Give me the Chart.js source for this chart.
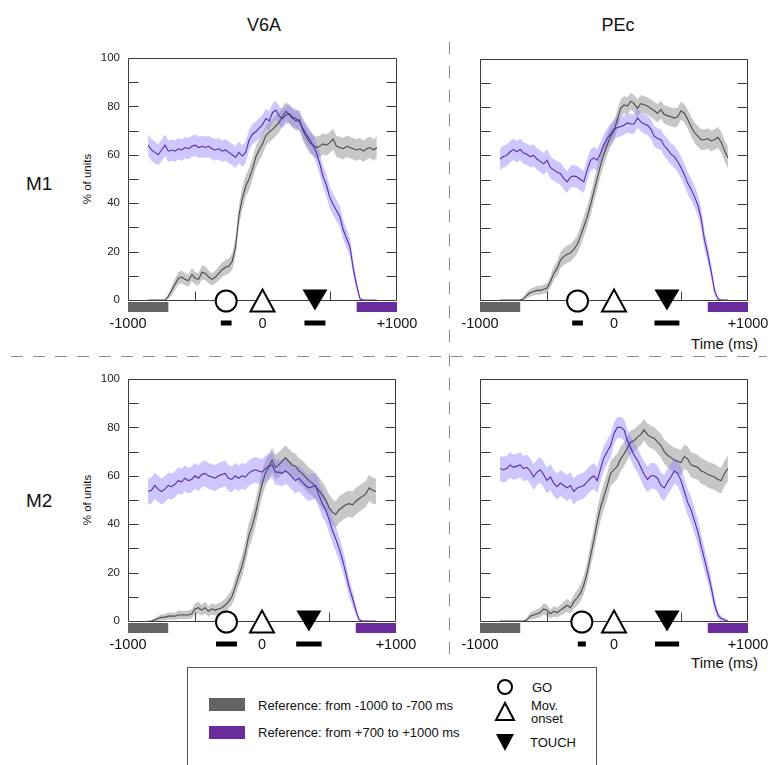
<!DOCTYPE html>
<html><head><meta charset="utf-8">
<script src="https://cdn.jsdelivr.net/npm/chart.js@4.4.1/dist/chart.umd.min.js"></script>
<style>
html,body{margin:0;padding:0;background:#fff;}
#wrap{position:relative;width:769px;height:765px;overflow:hidden;font-family:"Liberation Sans",Arial,sans-serif;color:#111;}
canvas{position:absolute;}
.t{position:absolute;white-space:nowrap;line-height:1;}
.c{transform:translate(-50%,-50%);}
.l{transform:translate(0,-50%);}
.r{transform:translate(-100%,-50%);}
.rot{transform:translate(-50%,-50%) rotate(-90deg);}
</style></head><body><div id="wrap">
<svg width="769" height="765" style="position:absolute;left:0;top:0">
<line x1="11" y1="356.5" x2="767" y2="356.5" stroke="#8a8a8a" stroke-width="1" stroke-dasharray="12,10"/>
<line x1="449.5" y1="42" x2="449.5" y2="664" stroke="#8a8a8a" stroke-width="1" stroke-dasharray="12,12"/>
<rect x="187.5" y="667.5" width="409" height="120" fill="none" stroke="#555" stroke-width="1"/>
<rect x="209" y="698" width="36" height="13" fill="#646464"/>
<rect x="209" y="726" width="36" height="13" fill="#6a2c9c"/>
<circle cx="505" cy="687" r="7" fill="#fff" stroke="#000" stroke-width="2"/>
<polygon points="505,703 496,720 514,720" fill="#fff" stroke="#000" stroke-width="2"/>
<polygon points="496,734 514,734 505,751" fill="#000"/>
</svg>
<div class="t c" style="left:264px;top:25px;font-size:18px">V6A</div>
<div class="t c" style="left:618px;top:25px;font-size:18px">PEc</div>
<div class="t l" style="left:26px;top:183px;font-size:19px">M1</div>
<div class="t l" style="left:26px;top:500px;font-size:19px">M2</div>
<div class="t rot" style="left:88px;top:179px;font-size:11.5px">% of units</div>
<div class="t rot" style="left:88px;top:500px;font-size:11.5px">% of units</div>
<div class="t r" style="left:758px;top:343px;font-size:15px">Time (ms)</div>
<div class="t r" style="left:758px;top:662px;font-size:15px">Time (ms)</div>
<div class="t l" style="left:258px;top:705px;font-size:13px">Reference: from -1000 to -700 ms</div>
<div class="t l" style="left:258px;top:732px;font-size:13px">Reference: from +700 to +1000 ms</div>
<div class="t l" style="left:532px;top:687px;font-size:13px">GO</div>
<div class="t l" style="left:531px;top:705px;font-size:13px">Mov.</div>
<div class="t l" style="left:531px;top:718px;font-size:13px">onset</div>
<div class="t l" style="left:530px;top:742px;font-size:13px">TOUCH</div>
<canvas id="c1" width="340" height="300" style="left:90px;top:40px"></canvas>
<canvas id="c2" width="327" height="300" style="left:442px;top:40px"></canvas>
<canvas id="c3" width="340" height="300" style="left:90px;top:360px"></canvas>
<canvas id="c4" width="327" height="300" style="left:442px;top:360px"></canvas>
</div>
<script>
// ---- data ----
const timeMs = [-850,-825,-800,-775,-750,-725,-700,-675,-650,-625,-600,-575,-550,-525,-500,-475,-450,-425,-400,-375,-350,-325,-300,-275,-250,-225,-200,-175,-150,-125,-100,-75,-50,-25,0,25,50,75,100,125,150,175,200,225,250,275,300,325,350,375,400,425,450,475,500,525,550,575,600,625,650,675,700,725,750,775,800,825,850];

const v6aM1Gray = [0,0,0,0,0,0,1.5,4,6.5,9,9.5,8.5,8,10.5,9,8.5,11.5,11,9.5,8.5,9.5,11,12.5,13.5,14,16,22,35,42,47,50,54,59,62,64.5,68,69.5,70.5,72,73.5,76,78,76.5,75,74,74.5,70,67.5,65,64,63,63.5,64.5,64,65,66.5,63.5,63,62.5,63.5,63,62.5,62,62.5,61.5,62.5,63,62,63];
const v6aM1Purple = [64,62,61,60,62,64,61.5,62,61.5,62.5,62,63,62.5,63.5,64,63,63.5,63,63.5,62.5,62,62.5,61.5,62,61,60,59,61,59.5,61,66,68.5,69.5,71,72.5,75,74,77.5,78.5,76,75,76.5,77,75.5,75,73.5,71,68.5,66.5,64,61,56.5,51,47.5,42.5,39.5,37,34.5,29,25.5,22,13,6,0.5,0,0,0,0,0];

const pecM1Gray = [0,0,0,0,0,0,0,0.5,2,3,3.5,4,4,4.5,5,7.5,11,13,16.5,18,19,19.5,21,23,26.5,30.5,34.5,39.5,45,50.5,56,60.5,64.5,68,70,75,79.5,81,80.5,82.5,81.5,79.5,81.5,81,80.5,79.5,78.5,77.5,79,77,76.5,76,75.5,76,78.5,77.5,75,72,69.5,68,66.5,66.5,67,66,66.5,67.5,65.5,62,59];
const pecM1Purple = [58.5,59.5,60,61.5,62.5,61.5,62.5,61,60.5,59.5,60,58.5,57.5,56.5,58,55,54,53,52.5,50.5,49,51,51.5,51,50,49,54,58,59,58,61,64.5,67,69,71,71.5,72,72.5,73.5,73,73,75.5,74,73,72.5,71,68,67,66.5,64,62.5,60.5,59.5,57.5,55,52,48.5,46,43,39.5,34,25,19,12,4,0.5,0,0,0];

const v6aM2Gray = [0,0,0.5,1,1.5,1.5,2,2,2,2.5,2.5,2.5,2.5,3,5,5.5,4.5,5.5,4,5,4.5,5,5.5,6.5,8,10,14,18.5,22.5,28,35,39,44,50.5,56.5,61,63.5,66.5,63.5,64.5,66,67.5,66,64.5,64,62,61,59.5,58,57,55.5,54,52,50,47,45,44,46,47,48,48.5,48,49.5,50.5,51.5,52.5,55,54,53.5];
const v6aM2Purple = [53.5,54,56,54.5,53.5,54.5,56,55.5,56.5,58,57.5,59,58,58.5,60,59,60.5,61,60,59.5,59,60,60.5,61,59,58.5,60,59,60,59.5,61,62,62.5,62,61.5,63,64,64.5,61.5,61.5,61,62,61,59.5,58,59,57.5,56,55,55.5,56,52,48.5,46,42,37.5,34,30,25.5,20,14,9.5,4.5,0.5,0,0,0,0,0];

const pecM2Gray = [0,0,0,0,0,0,0,0,0.5,2,2.5,3,3.5,5,4.5,3,4,3.5,4.5,5.5,6.5,5.5,8,9.5,11.5,15,20,27,33.5,41,47,51.5,56,61,62.5,64,67,69,71.5,74,74.5,76,77,79,77,76,75.5,74,72.5,70,68.5,67.5,66.5,66,65.5,68,67,64.5,64,63.5,62,61.5,60.5,60,59.5,58.5,58,61,63];
const pecM2Purple = [63,62.5,63,64.5,63.5,64,64.5,63,63.5,62,59.5,61.5,62.5,60.5,58,59.5,57,55.5,57,56,55,56,53.5,55,55.5,56,57.5,59,60,58,63,67.5,70,72.5,77.5,80,80,79,74.5,71.5,68.5,66.5,63.5,60.5,58.5,60,60,59,56,55,57.5,59.5,62,61,58,53.5,49,46,41.5,37,31,25.5,20,14,7,2.5,1,0.5,0];

// number of recorded units per panel (for the standard-error band of the percentage)
const unitCounts = [120, 120, 85, 85];

// behavioural events (ms) and their spread
const goTimes = [-270, -272, -265, -240];
const goSpread = [40, 40, 78, 30];
const movTimes = [0, 0, 0, 0];
const touchTimes = [390, 395, 350, 396];
const touchSpread = [78, 93, 95, 90];

const refEarly = [-1000, -700];
const refLate = [700, 1000];
const xTickLabels = [-1000, 0, 1000];
const xMinorTicks = [-500, 500];
const yTickLabels = [0, 20, 40, 60, 80, 100];
const yMinorTicks = [10, 20, 30, 40, 50, 60, 70, 80, 90];

// ---- styling ----
const FONT = '"Liberation Sans", Arial, sans-serif';
const GRAY_LINE = '#4a4a4a', GRAY_BAND = 'rgba(130,130,130,0.45)';
const PURP_LINE = '#5a2aa8', PURP_BAND = 'rgba(145,130,250,0.45)';
const GRAY_REF = '#646464', PURP_REF = '#6a2c9c';

function pts(vals) { return timeMs.map((t, i) => ({x: t, y: vals[i]})); }
function band(vals, n, sign) {
  return timeMs.map((t, i) => {
    const p = vals[i];
    const se = Math.sqrt(p * (100 - p) / n);
    return {x: t, y: Math.max(0, Math.min(100, p + sign * se))};
  });
}

const decor = {
  id: 'decor',
  afterDatasetsDraw(chart) {
    const o = chart.options.plugins.decor;
    const {ctx, scales: {x, y}} = chart;
    const y0 = Math.round(y.getPixelForValue(0)) + 0.5;
    const yTop = Math.round(y.getPixelForValue(100)) + 0.5;
    const xl = Math.round(x.getPixelForValue(-1000)) + 0.5;
    const xr = Math.round(x.getPixelForValue(1000)) - 0.5;
    ctx.save();
    // reference windows
    ctx.fillStyle = GRAY_REF;
    ctx.fillRect(x.getPixelForValue(refEarly[0]), y0 + 1.5, x.getPixelForValue(refEarly[1]) - x.getPixelForValue(refEarly[0]), 10);
    ctx.fillStyle = PURP_REF;
    ctx.fillRect(x.getPixelForValue(refLate[0]), y0 + 1.5, x.getPixelForValue(refLate[1]) - x.getPixelForValue(refLate[0]), 10);
    // frame
    ctx.strokeStyle = '#3c3c3c'; ctx.lineWidth = 1;
    ctx.beginPath();
    ctx.moveTo(xl, y0); ctx.lineTo(xl, yTop); ctx.lineTo(xr, yTop); ctx.lineTo(xr, y0);
    ctx.moveTo(xl, y0); ctx.lineTo(xr, y0);
    yMinorTicks.forEach(v => {
      const py = Math.round(y.getPixelForValue(v)) + 0.5;
      ctx.moveTo(xl, py); ctx.lineTo(xl + 10, py);
      ctx.moveTo(xr, py); ctx.lineTo(xr - 10, py);
    });
    xMinorTicks.forEach(v => {
      const px = Math.round(x.getPixelForValue(v)) + 0.5;
      ctx.moveTo(px, y0); ctx.lineTo(px, y0 - 9);
    });
    ctx.stroke();
    // event spread bars
    ctx.fillStyle = '#000';
    const by = y0 + 20;
    [[o.go, o.goS], [o.touch, o.touchS]].forEach(([t, s]) => {
      const a1 = x.getPixelForValue(t - s), a2 = x.getPixelForValue(t + s);
      ctx.fillRect(a1, by, a2 - a1, 5);
    });
    // event markers
    ctx.lineWidth = 2; ctx.strokeStyle = '#000';
    const gx = x.getPixelForValue(o.go);
    ctx.beginPath(); ctx.arc(gx, y0 + 0.5, 10.5, 0, Math.PI * 2);
    ctx.fillStyle = '#fff'; ctx.fill(); ctx.stroke();
    const mx = x.getPixelForValue(o.mov);
    ctx.beginPath(); ctx.moveTo(mx, y0 - 11); ctx.lineTo(mx + 12, y0 + 11); ctx.lineTo(mx - 12, y0 + 11); ctx.closePath();
    ctx.fill(); ctx.stroke();
    const tx = x.getPixelForValue(o.touch);
    ctx.beginPath(); ctx.moveTo(tx - 12.5, y0 - 11); ctx.lineTo(tx + 12.5, y0 - 11); ctx.lineTo(tx, y0 + 10); ctx.closePath();
    ctx.fillStyle = '#000'; ctx.fill();
    ctx.restore();
  }
};

function makePanel(id, idx, gray, purple, showY, padT, padR, xH) {
  const n = unitCounts[idx];
  new Chart(document.getElementById(id), {
    type: 'line',
    data: {
      datasets: [
        {data: pts(purple), borderColor: PURP_LINE, borderWidth: 1.1, fill: false},
        {data: pts(gray), borderColor: GRAY_LINE, borderWidth: 1.1, fill: false},
        {data: band(purple, n, 1), borderWidth: 0, borderColor: 'rgba(0,0,0,0)', backgroundColor: PURP_BAND, fill: '+1'},
        {data: band(purple, n, -1), borderWidth: 0, borderColor: 'rgba(0,0,0,0)', fill: false},
        {data: band(gray, n, 1), borderWidth: 0, borderColor: 'rgba(0,0,0,0)', backgroundColor: GRAY_BAND, fill: '+1'},
        {data: band(gray, n, -1), borderWidth: 0, borderColor: 'rgba(0,0,0,0)', fill: false}
      ]
    },
    plugins: [decor],
    options: {
      responsive: false, animation: false, devicePixelRatio: 1,
      layout: {padding: {left: 0, top: padT, right: padR, bottom: 0}},
      elements: {point: {radius: 0, hoverRadius: 0}, line: {tension: 0}},
      events: [],
      plugins: {
        legend: {display: false}, tooltip: {enabled: false},
        decor: {go: goTimes[idx], goS: goSpread[idx], mov: movTimes[idx], touch: touchTimes[idx], touchS: touchSpread[idx]}
      },
      scales: {
        x: {
          type: 'linear', min: -1000, max: 1000,
          grid: {display: false, drawTicks: false}, border: {display: false},
          afterBuildTicks(s) { s.ticks = xTickLabels.map(v => ({value: v})); },
          afterFit(s) { s.height = xH; s.paddingLeft = 0; s.paddingRight = 0; },
          ticks: {padding: 15, autoSkip: false, maxRotation: 0, color: '#111', font: {family: FONT, size: 14.5},
                  callback: v => (v > 0 ? '+' + v : String(v))}
        },
        y: {
          min: 0, max: 100,
          grid: {display: false, drawTicks: false}, border: {display: false},
          afterBuildTicks(s) { s.ticks = yTickLabels.map(v => ({value: v})); },
          afterFit(s) { s.width = 38; s.paddingTop = 0; s.paddingBottom = 0; },
          ticks: {display: showY, padding: 8, color: '#222', font: {family: FONT, size: 11.5}}
        }
      }
    }
  });
}

makePanel('c1', 0, v6aM1Gray, v6aM1Purple, true, 18, 33, 40);
makePanel('c2', 1, pecM1Gray, pecM1Purple, false, 19, 21, 40);
makePanel('c3', 2, v6aM2Gray, v6aM2Purple, true, 19, 34, 39);
makePanel('c4', 3, pecM2Gray, pecM2Purple, false, 19, 21, 39);
</script>
</body></html>
